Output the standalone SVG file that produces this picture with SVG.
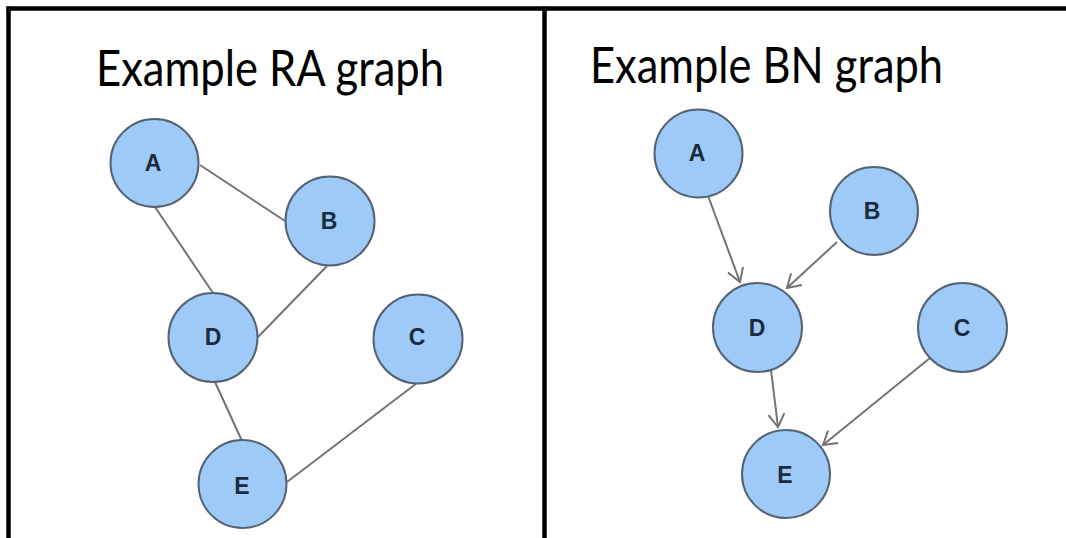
<svg xmlns="http://www.w3.org/2000/svg" width="1066" height="538" viewBox="0 0 1066 538">
  <style>
    .frame { stroke: #000; stroke-width: 4.5; fill: none; }
    .title { font-family: Lato, "Open Sans", "Liberation Sans", sans-serif; font-size: 50px; fill: #000; }
    .node circle { fill: #9dcaf6; stroke: #556273; stroke-width: 2; }
    .node text { font-family: "Liberation Sans", Arial, sans-serif; font-weight: bold; font-size: 23px; fill: #1b2a3d; text-anchor: middle; dominant-baseline: central; }
    .edge { stroke: #737373; stroke-width: 2; fill: none; }
  </style>
  <defs>
    <marker id="arrow" viewBox="0 0 16 18" refX="14" refY="9" markerWidth="16" markerHeight="18" markerUnits="userSpaceOnUse" orient="auto">
      <path d="M1,1 L14,9 L1,17" fill="none" stroke="#737373" stroke-width="2"/>
    </marker>
  </defs>
  <rect width="1066" height="538" fill="#fff"/>

  <!-- table frame -->
  <g id="frame">
    <line class="frame" x1="6.5" y1="8.5" x2="1066" y2="8.5"/>
    <line class="frame" x1="8.5" y1="6.5" x2="8.5" y2="538"/>
    <line class="frame" x1="544.5" y1="6.5" x2="544.5" y2="538"/>
  </g>

  <!-- column headings -->
  <text id="title-ra" class="title" x="96" y="86" textLength="348" lengthAdjust="spacingAndGlyphs">Example RA graph</text>
  <text id="title-bn" class="title" x="590" y="83" textLength="353" lengthAdjust="spacingAndGlyphs">Example BN graph</text>

  <!-- connectors -->
  <g id="connectors">
    <!-- undirected RA graph -->
    <line class="edge" x1="200" y1="165" x2="285" y2="221"/>
    <line class="edge" x1="155" y1="207" x2="213" y2="293"/>
    <line class="edge" x1="327" y1="266" x2="258" y2="337"/>
    <line class="edge" x1="215" y1="382" x2="242" y2="441"/>
    <line class="edge" x1="417" y1="383" x2="287" y2="482"/>
    <!-- directed BN graph -->
    <line class="edge" x1="707" y1="193" x2="740" y2="282" marker-end="url(#arrow)"/>
    <line class="edge" x1="837" y1="242" x2="787" y2="288" marker-end="url(#arrow)"/>
    <line class="edge" x1="771" y1="370" x2="778" y2="427" marker-end="url(#arrow)"/>
    <line class="edge" x1="930" y1="358" x2="823" y2="445" marker-end="url(#arrow)"/>
  </g>

  <!-- RA graph nodes -->
  <g id="ra-A" class="node"><circle cx="154.5" cy="163" r="44"/><text x="153" y="163">A</text></g>
  <g id="ra-B" class="node"><circle cx="330" cy="221" r="44.5"/><text x="329" y="221">B</text></g>
  <g id="ra-D" class="node"><circle cx="213" cy="337.5" r="44.5"/><text x="213" y="337">D</text></g>
  <g id="ra-C" class="node"><circle cx="418" cy="339" r="44.5"/><text x="417" y="337">C</text></g>
  <g id="ra-E" class="node"><circle cx="242.5" cy="484" r="44"/><text x="242" y="486">E</text></g>

  <!-- BN graph nodes -->
  <g id="bn-A" class="node"><circle cx="698.5" cy="153.5" r="44"/><text x="697" y="153">A</text></g>
  <g id="bn-B" class="node"><circle cx="874" cy="211" r="44"/><text x="872" y="211">B</text></g>
  <g id="bn-D" class="node"><circle cx="757.5" cy="327.5" r="44.5"/><text x="757" y="328">D</text></g>
  <g id="bn-C" class="node"><circle cx="962.5" cy="327.5" r="44.5"/><text x="962" y="328">C</text></g>
  <g id="bn-E" class="node"><circle cx="786" cy="474" r="44"/><text x="785" y="475">E</text></g>
</svg>
